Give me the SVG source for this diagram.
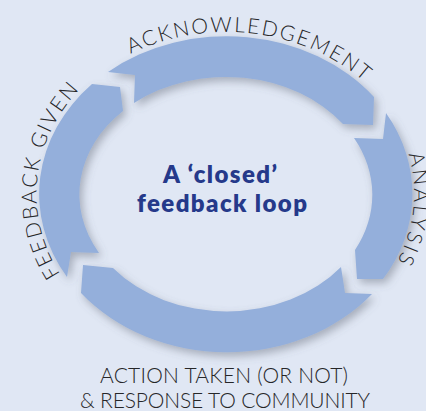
<svg xmlns="http://www.w3.org/2000/svg" width="426" height="411" viewBox="0 0 426 411">
<defs>
<filter id="sh" x="-20%" y="-20%" width="140%" height="140%">
<feDropShadow dx="3" dy="4" stdDeviation="4" flood-color="#5f6673" flood-opacity="0.45"/>
</filter>
<path id="pTop" d="M119.7,59.7 A191,162 0 0 1 372.8,89.9"/>
<path id="pLeft" d="M70.9,288.7 A190,165 0 0 1 92.2,77.3"/>
<path id="pRight" d="M396.4,125.5 A187.5,162 0 0 1 380.1,286.9"/>
</defs>
<style>
.arrow{fill:#94afdb;filter:url(#sh)}
.lbl{font-family:Lato,"Liberation Sans",sans-serif;font-weight:300;fill:#262628;font-size:21px}
.ctr{font-family:Lato,"Liberation Sans",sans-serif;font-weight:800;fill:#25398a;font-size:24px;text-anchor:middle}
</style>
<rect width="426" height="411" fill="#e0e7f4"/>
<g id="connectors">
<path id="arrow-ack" class="arrow" d="M108,72 A187,158 0 0 1 374,97 L373,125 L343,124 A146,117 0 0 0 134,103 L135,75 Z"/>
<path id="arrow-analysis" class="arrow" d="M386,113 A187,158 0 0 1 383,279 L357,279 L355,250 A146,117 0 0 0 354,138 L383,139 Z"/>
<path id="arrow-action" class="arrow" d="M372,294 A187,158 0 0 1 81,293 L83,265 L113,268 A146,117 0 0 0 341,267 L345,293 Z"/>
<path id="arrow-feedback" class="arrow" d="M67,277 A187,158 0 0 1 92,84 L120,87 L123,111 A146,117 0 0 0 99,253 L71,252 Z"/>
</g>
<g id="node-acknowledgement">
<text class="lbl"><textPath href="#pTop" startOffset="50%" text-anchor="middle" textLength="248" lengthAdjust="spacing">ACKNOWLEDGEMENT</textPath></text>
</g>
<g id="node-analysis">
<text class="lbl" font-size="18"><textPath href="#pRight" startOffset="50%" text-anchor="middle" textLength="110" lengthAdjust="spacing">ANALYSIS</textPath></text>
</g>
<g id="node-feedback-given">
<text class="lbl"><textPath href="#pLeft" startOffset="50%" text-anchor="middle" textLength="200" lengthAdjust="spacing">FEEDBACK GIVEN</textPath></text>
</g>
<g id="node-action">
<text class="lbl" x="224" y="383" text-anchor="middle" font-size="21" textLength="248" lengthAdjust="spacing">ACTION TAKEN (OR NOT)</text>
<text class="lbl" x="225" y="408" text-anchor="middle" font-size="21" textLength="290" lengthAdjust="spacing">&amp; RESPONSE  TO COMMUNITY</text>
</g>
<g id="node-center">
<text class="ctr" x="220" y="183" textLength="114" lengthAdjust="spacing">A ‘closed’</text>
<text class="ctr" x="222" y="212" textLength="170" lengthAdjust="spacing">feedback loop</text>
</g>
</svg>
